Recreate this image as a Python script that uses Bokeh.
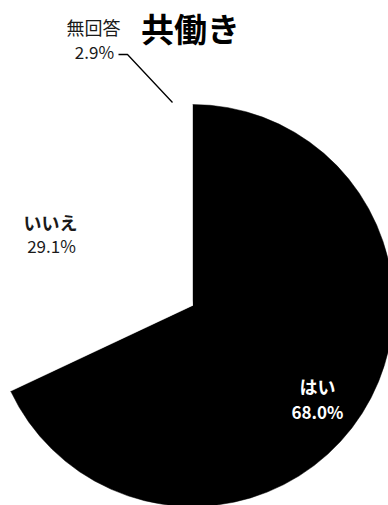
import math
from bokeh.plotting import figure
from bokeh.models import Range1d, ColumnDataSource
from bokeh.core.properties import value
from bokeh.embed import file_html
from bokeh.resources import INLINE

# ---- data ----
title = "共働き"
categories = ["はい", "いいえ", "無回答"]
shares = [68.0, 29.1, 2.9]
colors = ["#000000", "#ffffff", "#ffffff"]
text_colors = ["#ffffff", "#1a1a1a", "#1a1a1a"]
name_weights = ["bold", "bold", "normal"]
pct_weights = ["bold", "normal", "normal"]

# ---- layout (page pixel coordinates; y is negated so up is positive) ----
W, H = 388, 505
cx, cy = 192, -305
R = 201
FONT = "Noto Sans CJK JP"

p = figure(width=W, height=H, output_backend="svg", toolbar_location=None,
           x_range=Range1d(0, W), y_range=Range1d(-H, 0),
           x_axis_type=None, y_axis_type=None, min_border=0)
p.grid.visible = False
p.outline_line_color = None
p.background_fill_color = "white"
p.border_fill_color = "white"

total = sum(shares)
starts, ends = [], []
cum = 0.0
for s in shares:
    starts.append(math.pi / 2 - 2 * math.pi * cum / total)
    cum += s
    ends.append(math.pi / 2 - 2 * math.pi * cum / total)

src = ColumnDataSource(dict(cat=categories, share=shares, color=colors,
                            start=starts, end=ends))
p.wedge(x=cx, y=cy, radius=R, start_angle="start", end_angle="end",
        direction="clock", fill_color="color", line_color="color",
        line_width=0.5, source=src)

# label anchor positions (page px) for name / percentage
name_pos = [(317, -385), (50, -221), (93, -26)]
pct_pos = [(317, -411), (51, -245), (94, -51)]

for i, cat in enumerate(categories):
    p.text(x=[name_pos[i][0]], y=[name_pos[i][1]], text=[cat],
           text_color=text_colors[i], text_font=value(FONT),
           text_font_size="18px", text_font_style=name_weights[i],
           text_align="center", text_baseline="middle")
    p.text(x=[pct_pos[i][0]], y=[pct_pos[i][1]], text=[f"{shares[i]:.1f}%"],
           text_color=text_colors[i], text_font=value(FONT),
           text_font_size="17px", text_font_style=pct_weights[i],
           text_align="center", text_baseline="middle")

# leader line for the small slice
p.line(x=[118, 127, 172], y=[-54, -54, -102], line_color="black", line_width=1.3)

# title
p.text(x=[190], y=[-27], text=[title], text_font=value(FONT),
       text_font_size="33px", text_font_style="bold", text_color="black",
       text_align="center", text_baseline="middle")

open("out.html", "w").write(file_html(p, INLINE))
